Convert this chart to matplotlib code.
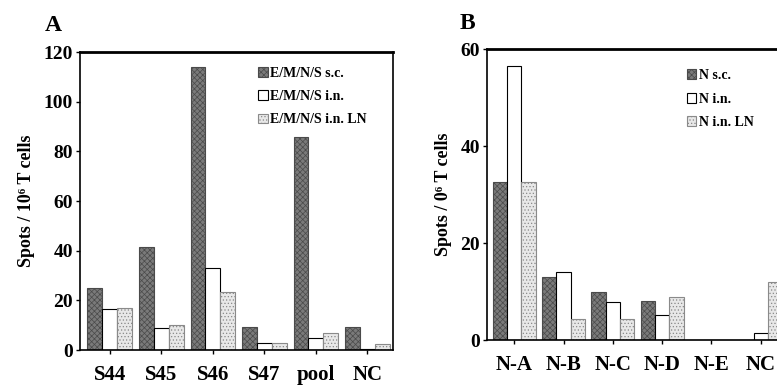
import numpy as np
import matplotlib.pyplot as plt

plt.rcParams['font.family'] = ['Liberation Serif', 'DejaVu Serif']
plt.rcParams['font.weight'] = 'bold'
plt.rcParams['hatch.linewidth'] = 0.5

# panel A
cats_a = ['S44', 'S45', 'S46', 'S47', 'pool', 'NC']
sc_a = [25, 41.5, 114, 9.3, 86, 9.3]
in_a = [16.5, 9, 33, 3, 4.8, 0.5]
ln_a = [17, 10, 23.5, 3, 7, 2.5]
labels_a = ['E/M/N/S s.c.', 'E/M/N/S i.n.', 'E/M/N/S i.n. LN']

# panel B
cats_b = ['N-A', 'N-B', 'N-C', 'N-D', 'N-E', 'NC']
sc_b = [32.6, 13, 10, 8, 0, 0]
in_b = [56.5, 14, 7.9, 5.2, 0, 1.4]
ln_b = [32.6, 4.3, 4.3, 8.9, 0, 12]
labels_b = ['N s.c.', 'N i.n.', 'N i.n. LN']

fig = plt.figure(figsize=(7.77, 3.86), dpi=100)
axA = fig.add_axes([0.103, 0.093, 0.403, 0.772])
axB = fig.add_axes([0.627, 0.119, 0.39, 0.754])


def draw(ax, cats, series, labels, ymax, step, ylabel, xlim, leg_anchor):
    x = np.arange(len(cats))
    w = 0.29
    styles = [dict(facecolor='#7a7a7a', hatch='xxxxxx', edgecolor='#4a4a4a'),
              dict(facecolor='white', edgecolor='black'),
              dict(facecolor='#e8e8e8', hatch='.....', edgecolor='#8a8a8a')]
    for i, (vals, lab, st) in enumerate(zip(series, labels, styles)):
        ax.bar(x + (i - 1) * w, vals, w, label=lab, linewidth=0.8, **st)
    ax.set_xlim(*xlim)
    ax.set_ylim(0, ymax)
    ax.set_yticks(np.arange(0, ymax + 1, step))
    ax.set_xticks(x)
    ax.set_xticklabels(cats)
    ax.tick_params(axis='x', labelsize=15, direction='out', length=3, width=1, pad=8)
    ax.tick_params(axis='y', labelsize=14, direction='out', length=3, width=1, pad=2)
    ax.set_ylabel(ylabel, fontsize=13, fontweight='bold', labelpad=6)
    for s in ax.spines.values():
        s.set_linewidth(1.2)
    ax.spines['top'].set_linewidth(2)
    for t in ax.get_xticklabels() + ax.get_yticklabels():
        t.set_fontweight('bold')
    ax.legend(loc='upper left', bbox_to_anchor=leg_anchor, frameon=False,
              fontsize=10, handlelength=0.7, handleheight=0.7,
              handletextpad=0.2, labelspacing=0.75, borderaxespad=0)


draw(axA, cats_a, [sc_a, in_a, ln_a], labels_a, 120, 20,
     'Spots / 10⁶ T cells', (-0.58, 5.5), (0.55, 0.97))
draw(axB, cats_b, [sc_b, in_b, ln_b], labels_b, 60, 20,
     'Spots / 0⁶ T cells', (-0.55, 5.6), (0.64, 0.95))

fig.text(0.058, 0.92, 'A', fontsize=17, fontweight='bold')
fig.text(0.592, 0.925, 'B', fontsize=17, fontweight='bold')

fig.savefig('out.png', dpi=100)
